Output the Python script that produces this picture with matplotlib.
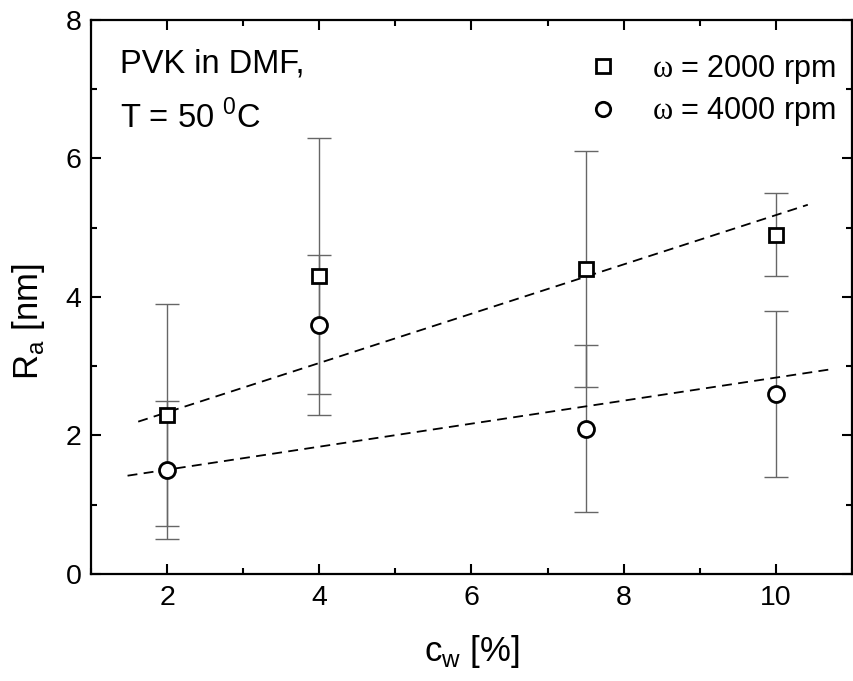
import matplotlib
matplotlib.use("Agg")
import matplotlib.pyplot as plt
from matplotlib.ticker import MultipleLocator

# ---------- DATA ----------
conc = [2, 4, 7.5, 10]                 # c_w [%]
ra_2000 = [2.3, 4.3, 4.4, 4.9]         # omega = 2000 rpm
err_2000 = [1.6, 2.0, 1.7, 0.6]
ra_4000 = [1.5, 3.6, 2.1, 2.6]         # omega = 4000 rpm
err_4000 = [1.0, 1.0, 1.2, 1.2]

# dashed trend lines (end points)
trend_2000_x = [1.62, 10.42]
trend_2000_y = [2.20, 5.33]
trend_4000_x = [1.48, 10.75]
trend_4000_y = [1.42, 2.96]
# --------------------------

plt.rcParams['font.family'] = ['Liberation Sans', 'DejaVu Sans']
plt.rcParams['mathtext.fontset'] = 'custom'
plt.rcParams['mathtext.rm'] = 'Liberation Sans'
plt.rcParams['mathtext.sf'] = 'Liberation Serif'

fig = plt.figure(figsize=(8.54, 6.81), dpi=100)
ax = fig.add_axes([0.1066, 0.157, 0.891, 0.814])

err_color = '#666666'
ax.errorbar(conc, ra_2000, yerr=err_2000, fmt='none', ecolor=err_color,
            elinewidth=1.0, capsize=8.5, capthick=1.0, zorder=2)
ax.errorbar(conc, ra_4000, yerr=err_4000, fmt='none', ecolor=err_color,
            elinewidth=1.0, capsize=8.5, capthick=1.0, zorder=2)

ax.plot(trend_2000_x, trend_2000_y, color='black', lw=1.3,
        linestyle=(0, (5.5, 3.5)), zorder=3)
ax.plot(trend_4000_x, trend_4000_y, color='black', lw=1.3,
        linestyle=(0, (5.5, 3.5)), zorder=3)

ax.plot(conc, ra_2000, linestyle='none', marker='s', ms=10.5, mfc='white',
        mec='black', mew=2.0, zorder=4,
        label=r'$\mathsf{\omega}$ = 2000 rpm')
ax.plot(conc, ra_4000, linestyle='none', marker='o', ms=11.5, mfc='white',
        mec='black', mew=2.0, zorder=4,
        label=r'$\mathsf{\omega}$ = 4000 rpm')

ax.set_xlim(1, 11)
ax.set_ylim(0, 8)
ax.xaxis.set_major_locator(MultipleLocator(2))
ax.xaxis.set_minor_locator(MultipleLocator(1))
ax.yaxis.set_major_locator(MultipleLocator(2))
ax.yaxis.set_minor_locator(MultipleLocator(1))
ax.tick_params(which='both', direction='in', top=True, right=True, width=1.5)
ax.tick_params(which='major', length=7.5, labelsize=20.5, pad=8)
ax.tick_params(which='minor', length=4.5)
ax.tick_params(axis='y', which='major', pad=7)
for s in ax.spines.values():
    s.set_linewidth(1.6)

ax.set_xlabel(r'c$_\mathrm{w}$ [%]', fontsize=25, labelpad=16)
ax.set_ylabel(r'R$_\mathrm{a}$ [nm]', fontsize=25)
ax.yaxis.set_label_coords(-0.058, 0.455)

ax.text(0.038, 0.905, 'PVK in DMF,', transform=ax.transAxes, fontsize=23.5)
ax.text(0.038, 0.805, r'T = 50 $^\mathrm{0}$C', transform=ax.transAxes,
        fontsize=23.5)

ax.legend(loc='upper right', bbox_to_anchor=(0.995, 0.962),
          frameon=False, fontsize=22, numpoints=1,
          handlelength=1.2, handletextpad=1.0, labelspacing=0.3,
          borderaxespad=0.0, borderpad=0.4, markerscale=0.9)

fig.savefig('out.png', dpi=100)
